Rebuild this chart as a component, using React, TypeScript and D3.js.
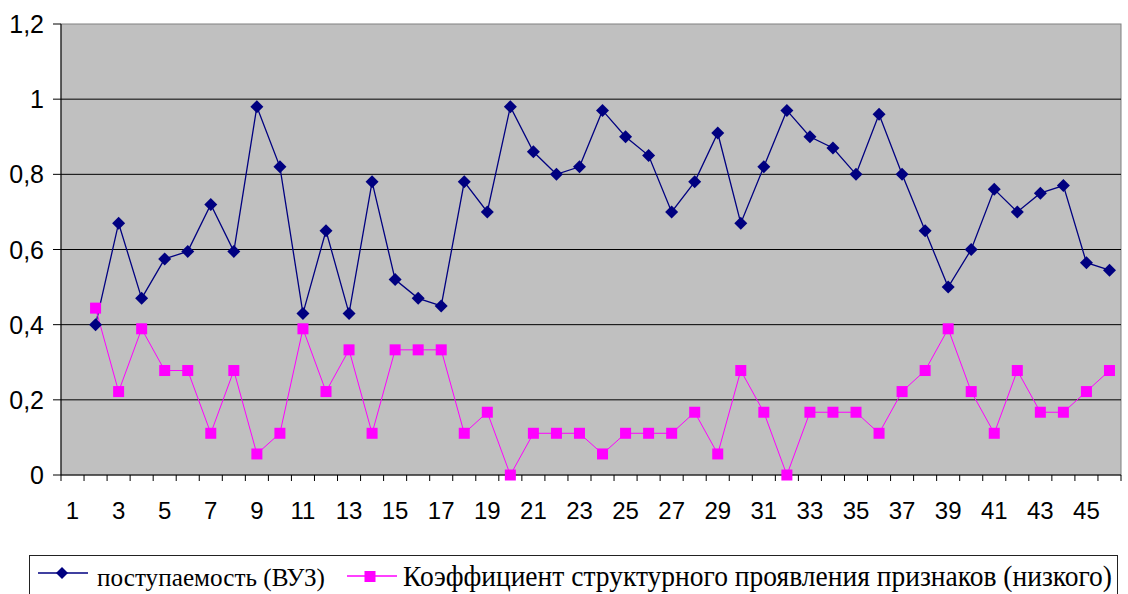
import React from 'react';
import * as d3 from 'd3';

// category numbers on the x axis
const categories = d3.range(1, 47);

// поступаемость (ВУЗ), categories 2..46 (category 1 is empty)
const admission = [
  0.40, 0.67, 0.47, 0.575, 0.595, 0.72, 0.595, 0.98, 0.82, 0.43,
  0.65, 0.43, 0.78, 0.52, 0.47, 0.45, 0.78, 0.70, 0.98, 0.86,
  0.80, 0.82, 0.97, 0.90, 0.85, 0.70, 0.78, 0.91, 0.67, 0.82,
  0.97, 0.90, 0.87, 0.80, 0.96, 0.80, 0.65, 0.50, 0.60, 0.76,
  0.70, 0.75, 0.77, 0.565, 0.545,
];

// Коэффициент структурного проявления признаков (низкого), categories 2..46
const coefLow = [
  0.444, 0.222, 0.389, 0.278, 0.278, 0.111, 0.278, 0.056, 0.111, 0.389,
  0.222, 0.333, 0.111, 0.333, 0.333, 0.333, 0.111, 0.167, 0, 0.111,
  0.111, 0.111, 0.056, 0.111, 0.111, 0.111, 0.167, 0.056, 0.278, 0.167,
  0, 0.167, 0.167, 0.167, 0.111, 0.222, 0.278, 0.389, 0.222, 0.111,
  0.278, 0.167, 0.167, 0.222, 0.278,
];

const yTicks = [0, 0.2, 0.4, 0.6, 0.8, 1, 1.2];
const seriesNames = ['поступаемость (ВУЗ)', 'Коэффициент структурного проявления признаков (низкого)'];

const blue = '#000080';
const pink = '#FF00FF';

const App = () => {
  const width = 1128;
  const height = 594;
  const plot = { left: 61, top: 24, right: 1121, bottom: 475 };

  const x = d3
    .scaleBand<number>()
    .domain(categories)
    .range([plot.left, plot.right]);

  const y = d3.scaleLinear().domain([0, 1.2]).range([plot.bottom, plot.top]);

  const cx = (c: number) => (x(c) as number) + x.bandwidth() / 2;

  const toPoints = (vals: number[]) => vals.map((v, i) => ({ c: categories[i + 1], v }));
  const blueData = toPoints(admission);
  const pinkData = toPoints(coefLow);

  const line = d3
    .line<{ c: number; v: number }>()
    .x((d) => cx(d.c))
    .y((d) => y(d.v));

  const diamond = (px: number, py: number, r: number) =>
    `M${px},${py - r}L${px + r},${py}L${px},${py + r}L${px - r},${py}Z`;

  const fmt = (v: number) => String(+v.toFixed(1)).replace('.', ',');

  const tickEdges = categories.map((c) => x(c) as number).concat([plot.right]);

  // legend text is drawn stretched vertically, like the original
  const legendY = 586;

  return (
    <svg width={width} height={height} style={{ display: 'block', position: 'absolute', left: 0, top: 0 }}>
      <rect x={0} y={0} width={width} height={height} fill="#fff" />
      {/* plot area */}
      <rect
        x={plot.left}
        y={plot.top}
        width={plot.right - plot.left}
        height={plot.bottom - plot.top}
        fill="#C0C0C0"
        stroke="#808080"
        strokeWidth={1}
      />
      {/* gridlines */}
      {yTicks
        .filter((t) => t > 0 && t < 1.2)
        .map((t) => (
          <line key={t} x1={plot.left} x2={plot.right} y1={y(t)} y2={y(t)} stroke="#000" strokeWidth={1} />
        ))}
      {/* y axis */}
      <line x1={plot.left} x2={plot.left} y1={plot.top} y2={plot.bottom} stroke="#000" />
      {yTicks.map((t) => (
        <g key={t}>
          <line x1={plot.left - 8} x2={plot.left} y1={y(t)} y2={y(t)} stroke="#000" />
          <text
            x={plot.left - 17}
            y={y(t) + 9}
            textAnchor="end"
            fontFamily="Liberation Sans, Arial, sans-serif"
            fontSize={25}
          >
            {fmt(t)}
          </text>
        </g>
      ))}
      {/* x axis */}
      <line x1={plot.left} x2={plot.right} y1={plot.bottom} y2={plot.bottom} stroke="#000" />
      {tickEdges.map((tx, i) => (
        <line key={i} x1={tx} x2={tx} y1={plot.bottom} y2={plot.bottom + 6} stroke="#000" />
      ))}
      {categories
        .filter((c) => c % 2 === 1)
        .map((c) => (
          <text
            key={c}
            x={cx(c)}
            y={519}
            textAnchor="middle"
            fontFamily="Liberation Sans, Arial, sans-serif"
            fontSize={24}
          >
            {c}
          </text>
        ))}
      {/* series lines */}
      <path d={line(blueData) || ''} fill="none" stroke={blue} strokeWidth={1.3} />
      <path d={line(pinkData) || ''} fill="none" stroke={pink} strokeWidth={1} />
      {blueData.map((d) => (
        <path key={'b' + d.c} d={diamond(cx(d.c), y(d.v), 6.5)} fill={blue} />
      ))}
      {pinkData.map((d) => (
        <rect key={'p' + d.c} x={cx(d.c) - 5.5} y={y(d.v) - 5.5} width={11} height={11} fill={pink} />
      ))}
      {/* legend */}
      <rect x={29.5} y={555.5} width={1088} height={60} fill="#fff" stroke="#222" />
      <line x1={38} x2={88} y1={573} y2={573} stroke={blue} strokeWidth={1.5} />
      <path d={diamond(62, 573, 6)} fill={blue} />
      <g transform={`translate(97, ${legendY}) scale(1, 1.37)`}>
        <text
          x={0}
          y={0}
          fontFamily="Liberation Serif, Times New Roman, serif"
          fontSize={19}
          textLength={228}
          lengthAdjust="spacingAndGlyphs"
        >
          {seriesNames[0]}
        </text>
      </g>
      <line x1={347} x2={397} y1={576} y2={576} stroke={pink} strokeWidth={1.5} />
      <rect x={364.5} y={571} width={11} height={11} fill={pink} />
      <g transform={`translate(403, ${legendY}) scale(1, 1.32)`}>
        <text
          x={0}
          y={0}
          fontFamily="Liberation Serif, Times New Roman, serif"
          fontSize={22}
          textLength={709}
          lengthAdjust="spacingAndGlyphs"
        >
          {seriesNames[1]}
        </text>
      </g>
    </svg>
  );
};

export default App;
